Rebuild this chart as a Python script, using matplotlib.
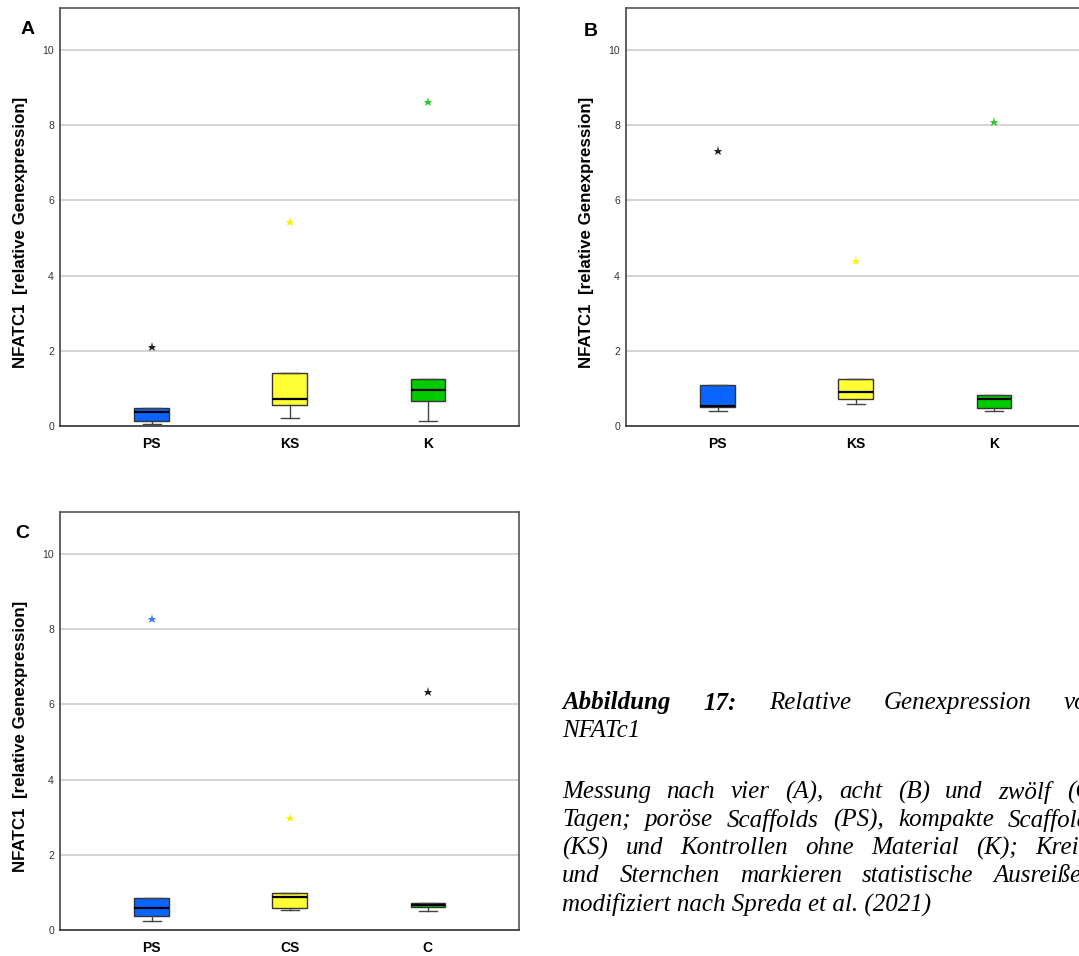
import matplotlib
matplotlib.use("Agg")
import matplotlib.pyplot as plt

W, H = 1079, 956

## box statistics per panel (q1, median, q3, whiskers, extreme values)
labels_ab = ["PS", "KS", "K"]
labels_c = ["PS", "CS", "C"]

a_q1 = [0.14, 0.55, 0.67]
a_med = [0.36, 0.73, 0.97]
a_q3 = [0.47, 1.40, 1.24]
a_lo = [0.05, 0.21, 0.14]
a_hi = [0.47, 1.40, 1.24]
a_out = [2.11, 5.42, 8.63]

b_q1 = [0.51, 0.73, 0.49]
b_med = [0.54, 0.90, 0.73]
b_q3 = [1.09, 1.24, 0.82]
b_lo = [0.40, 0.59, 0.39]
b_hi = [1.09, 1.24, 0.82]
b_out = [7.32, 4.39, 8.09]

c_q1 = [0.38, 0.58, 0.61]
c_med = [0.58, 0.89, 0.67]
c_q3 = [0.85, 0.99, 0.72]
c_lo = [0.25, 0.53, 0.50]
c_hi = [0.85, 0.99, 0.72]
c_out = [8.26, 2.97, 6.34]

BLUE = "#0a64ff"
YELLOW = "#ffff33"
GREEN = "#00cc00"
box_colors = [BLUE, YELLOW, GREEN]

star_colors_a = ["#222222", "#f5f500", "#22cc22"]
star_colors_b = ["#222222", "#f5f500", "#22cc22"]
star_colors_c = ["#3a7bff", "#f5f500", "#222222"]

YLABEL = "NFATC1  [relative Genexpression]"

caption_head = [["Abbildung", "17:"], ["Relative", "Genexpression", "von"]]
caption_lines = [
    "NFATc1",
    "Messung nach vier (A), acht (B) und zwölf (C)",
    "Tagen; poröse Scaffolds (PS), kompakte Scaffolds",
    "(KS) und Kontrollen ohne Material (K); Kreise",
    "und Sternchen markieren statistische Ausreißer;",
    "modifiziert nach Spreda et al. (2021)",
]

plt.rcParams["font.family"] = ["Liberation Sans", "DejaVu Sans"]

fig = plt.figure(figsize=(W / 100, H / 100), dpi=100)
fig.patch.set_facecolor("white")


def px_axes(l, t, r, b):
    return fig.add_axes([l / W, 1 - b / H, (r - l) / W, (b - t) / H])


def panel(ax, labels, q1, med, q3, lo, hi, out, star_colors, letter, letter_xy, ylabel_xy):
    stats = []
    for i in range(len(labels)):
        stats.append(dict(q1=q1[i], med=med[i], q3=q3[i], whislo=lo[i],
                          whishi=hi[i], fliers=[], label=labels[i]))
    pos = list(range(1, len(labels) + 1))
    bp = ax.bxp(stats, positions=pos, widths=0.25, patch_artist=True,
                showfliers=False,
                boxprops=dict(edgecolor="#333333", linewidth=1.0),
                medianprops=dict(color="black", linewidth=1.6),
                whiskerprops=dict(color="#444444", linewidth=1.0),
                capprops=dict(color="#444444", linewidth=1.0),
                capwidths=0.13)
    for patch, c in zip(bp["boxes"], box_colors):
        patch.set_facecolor(c)
    for p, v, c in zip(pos, out, star_colors):
        ax.plot([p], [v], marker="*", ms=6.5, color=c, mew=0, ls="none")

    ax.set_xlim(0.333, 3.66)
    ax.set_ylim(0, 11.11)
    ax.set_yticks([0, 2, 4, 6, 8, 10])
    ax.yaxis.grid(True, color="#d3d3d3", linewidth=1.4)
    ax.set_axisbelow(True)
    ax.tick_params(axis="y", length=0, pad=4, labelsize=7.5, labelcolor="#333333")
    ax.tick_params(axis="x", length=0, pad=8, labelsize=10)
    for t in ax.get_xticklabels():
        t.set_fontweight("bold")
    for s in ax.spines.values():
        s.set_color("#555555")
        s.set_linewidth(1.2)
    ax.spines["bottom"].set_color("#333333")
    ax.spines["left"].set_color("#444444")

    fig.text(letter_xy[0] / W, 1 - letter_xy[1] / H, letter, fontsize=14,
             fontweight="bold", ha="center", va="center")
    fig.text(ylabel_xy[0] / W, 1 - ylabel_xy[1] / H, YLABEL, fontsize=12.2,
             fontweight="bold", rotation=90, ha="center", va="center")


ax_a = px_axes(59.5, 8.3, 519, 426)
panel(ax_a, labels_ab, a_q1, a_med, a_q3, a_lo, a_hi, a_out, star_colors_a,
      "A", (27.5, 30), (21, 232))

ax_b = px_axes(625.5, 8.3, 1085, 426)
panel(ax_b, labels_ab, b_q1, b_med, b_q3, b_lo, b_hi, b_out, star_colors_b,
      "B", (591, 31), (586, 232))

ax_c = px_axes(59.5, 512.3, 519, 930)
panel(ax_c, labels_c, c_q1, c_med, c_q3, c_lo, c_hi, c_out, star_colors_c,
      "C", (22.7, 534), (21, 736))

# caption, justified between left edge and right margin
renderer = fig.canvas.get_renderer()
CAP_X = 562
CAP_R = 1100
CAP_SIZE = 18
serif = ["Liberation Serif", "DejaVu Serif"]


def justified(words, y, weights=None):
    texts = []
    for i, w in enumerate(words):
        fw = weights[i] if weights else "normal"
        t = fig.text(0, 1 - y / H, w, fontsize=CAP_SIZE, style="italic",
                     fontweight=fw, family=serif, va="center", ha="left")
        texts.append(t)
    widths = [t.get_window_extent(renderer).width for t in texts]
    gap = (CAP_R - CAP_X - sum(widths)) / (len(words) - 1)
    x = CAP_X
    for t, w in zip(texts, widths):
        t.set_x(x / W)
        x += w + gap


line_y = [703, 731, 792, 820, 848, 876, 904]
head_words = caption_head[0] + caption_head[1]
justified(head_words, line_y[0],
          ["bold"] * len(caption_head[0]) + ["normal"] * len(caption_head[1]))
fig.text(CAP_X / W, 1 - line_y[1] / H, caption_lines[0], fontsize=CAP_SIZE,
         style="italic", family=serif, va="center", ha="left")
for line, y in zip(caption_lines[1:5], line_y[2:6]):
    justified(line.split(" "), y)
fig.text(CAP_X / W, 1 - line_y[6] / H, caption_lines[5], fontsize=CAP_SIZE,
         style="italic", family=serif, va="center", ha="left")

fig.savefig("out.png", dpi=100, facecolor="white")
